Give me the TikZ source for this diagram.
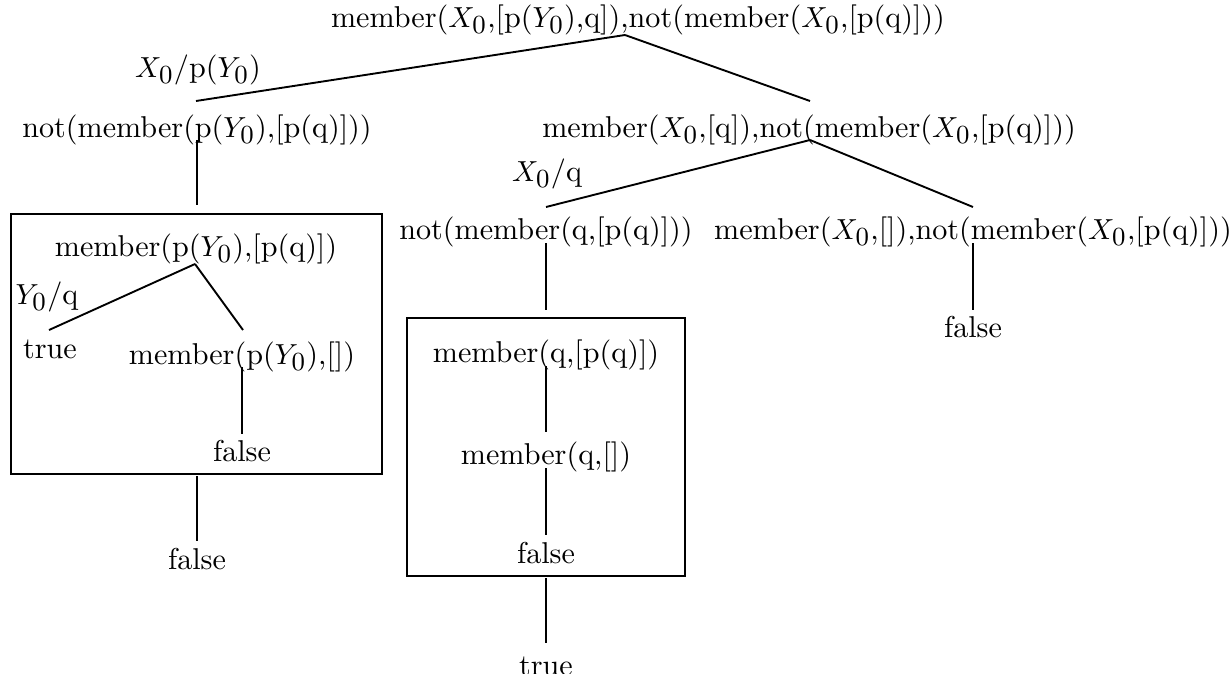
\documentclass[tikz,border=0pt]{standalone}
\DeclareMathSizes{10.4}{10.4}{8.8}{7}
\begin{document}
\begin{tikzpicture}[x=0.345pt,y=-0.345pt,
  lbl/.style={anchor=base,inner sep=0pt,font=\fontsize{10.4}{12}\selectfont},
  edge/.style={line width=0.65pt},
  frame/.style={line width=0.7pt}]
\useasboundingbox (0,0) rectangle (1229,673);
\clip (0,0) rectangle (1229,673);
% nodes
\node[lbl] (top) at (638,27) {member($X_0$,[p($Y_0$),q]),not(member($X_0$,[p(q)]))};
\node[lbl] (l1) at (197,137) {not(member(p($Y_0$),[p(q)]))};
\node[lbl] (r1) at (809,137) {member($X_0$,[q]),not(member($X_0$,[p(q)]))};
\node[lbl] (lab1) at (198,77) {$X_0$/p($Y_0$)};
\node[lbl] (lab2) at (547,181) {$X_0$/q};
\node[lbl] (r1l) at (546,239) {not(member(q,[p(q)]))};
\node[lbl] (r1r) at (973,239) {member($X_0$,[]),not(member($X_0$,[p(q)]))};
\node[lbl] (rf) at (973,337) {false};
% box 1
\node[lbl] (b1a) at (196,256) {member(p($Y_0$),[p(q)])};
\node[lbl] (lab3) at (47,304) {$Y_0$/q};
\node[lbl] (b1t) at (50,358) {true};
\node[lbl] (b1b) at (242,364) {member(p($Y_0$),[])};
\node[lbl] (b1f) at (242,461) {false};
\node[lbl] (lf) at (197,569) {false};
% box 2
\node[lbl] (b2a) at (546,362) {member(q,[p(q)])};
\node[lbl] (b2b) at (546,464) {member(q,[])};
\node[lbl] (b2f) at (546,563) {false};
\node[lbl] (rt) at (546,675) {true};
% coordinates
\coordinate (topA) at (625,35);
\coordinate (topL) at (196,101);
\coordinate (topR) at (810,101);
\coordinate (r1A) at (810,140);
\coordinate (r1L) at (546,207);
\coordinate (r1R) at (973,207);
\coordinate (l1s) at (197,140);
\coordinate (l1e) at (197,205);
\coordinate (b1A) at (195,264);
\coordinate (b1L) at (49,330);
\coordinate (b1R) at (243,330);
\coordinate (b1bs) at (242,367);
\coordinate (b1be) at (242,434);
\coordinate (lfs) at (197,476);
\coordinate (lfe) at (197,541);
\coordinate (r1ls) at (546,243);
\coordinate (r1le) at (546,310);
\coordinate (r1rs) at (973,243);
\coordinate (r1re) at (973,310);
\coordinate (b2as) at (546,366);
\coordinate (b2ae) at (546,432);
\coordinate (b2bs) at (546,468);
\coordinate (b2be) at (546,535);
\coordinate (rts) at (546,578);
\coordinate (rte) at (546,643);
% boxes
\draw[frame] (11,214) rectangle (382,474);
\draw[frame] (407,318) rectangle (685,576);
% edges
\draw[edge] (topA) -- (topL);
\draw[edge] (topA) -- (topR);
\draw[edge] (r1A) -- (r1L);
\draw[edge] (r1A) -- (r1R);
\draw[edge] (l1s) -- (l1e);
\draw[edge] (b1A) -- (b1L);
\draw[edge] (b1A) -- (b1R);
\draw[edge] (b1bs) -- (b1be);
\draw[edge] (lfs) -- (lfe);
\draw[edge] (r1ls) -- (r1le);
\draw[edge] (r1rs) -- (r1re);
\draw[edge] (b2as) -- (b2ae);
\draw[edge] (b2bs) -- (b2be);
\draw[edge] (rts) -- (rte);
\end{tikzpicture}
\end{document}
